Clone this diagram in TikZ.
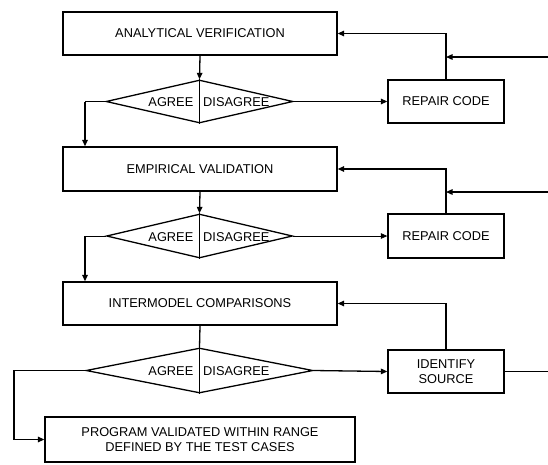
\documentclass[tikz,border=0pt]{standalone}
\usepackage{fontspec}
\setmainfont{Liberation Sans}
\usetikzlibrary{arrows.meta,shapes.geometric}
\begin{document}
\begin{tikzpicture}[x=1pt,y=-1pt,
  every node/.style={font=\fontsize{12.8}{14.5}\selectfont},
  box/.style={draw,line width=1.3pt,inner sep=0pt,align=center},
  dia/.style={draw,diamond,line width=1.3pt,inner sep=0pt},
  arr/.style={line width=1.3pt,-{Triangle[length=6.5pt,width=5.5pt]}},
  ln/.style={line width=1.3pt},
  thin/.style={line width=0.7pt}]
\useasboundingbox (0,0) rectangle (548,464);
\node[box,minimum width=274,minimum height=43] (b1) at (200,33.5) {ANALYTICAL VERIFICATION};
\node[box,minimum width=274,minimum height=44] (b2) at (200,169) {EMPIRICAL VALIDATION};
\node[box,minimum width=274,minimum height=43] (b3) at (200,303.5) {INTERMODEL COMPARISONS};
\node[box,minimum width=310,minimum height=45] (fin) at (200,439.5) {PROGRAM VALIDATED WITHIN RANGE\\DEFINED BY THE TEST CASES};
\node[box,minimum width=116,minimum height=43] (r1) at (446,101.5) {REPAIR CODE};
\node[box,minimum width=116,minimum height=44] (r2) at (446,236) {REPAIR CODE};
\node[box,minimum width=116,minimum height=43] (id) at (446,371.5) {IDENTIFY\\SOURCE};
\node[dia,minimum width=187,minimum height=43] (d1) at (199.5,101.5) {};
\node[dia,minimum width=186,minimum height=44] (d2) at (199.5,236) {};
\node[dia,minimum width=227,minimum height=45] (d3) at (199.5,370.5) {};
\foreach \d in {d1,d2,d3}{
  \draw[ln] (\d.north) -- (\d.south);
  \node[anchor=east,inner sep=0pt] (\d a) at ([xshift=-6pt,yshift=-1pt]\d.center) {AGREE};
  \node[anchor=west,inner sep=0pt] (\d g) at ([xshift=3.5pt,yshift=-1pt]\d.center) {DISAGREE};
}
\coordinate (in1) at (548,57);
\coordinate (in2) at (548,192);
\coordinate (out3) at (548,371.5);
\coordinate (c3) at (14,400);
% stage 1
\draw[arr] (b1.south) -- (d1.north);
\draw[thin] (d1.west) -- (85,101.5) coordinate (k1);
\draw[arr] (k1) -- (k1 |- b2.north);
\draw[arr] (d1.east) -- (r1.west);
\draw[arr] (r1.north) |- (b1.east);
\draw[arr] (in1) -- (r1.north |- in1);
% stage 2
\draw[arr] (b2.south) -- (d2.north);
\draw[thin] (d2.west) -- (85,236) coordinate (k2);
\draw[arr] (k2) -- (k2 |- b3.north);
\draw[thin,-{Triangle[length=6.5pt,width=5.5pt]}] (d2.east) -- (r2.west);
\draw[arr] (r2.north) |- (b2.east);
\draw[arr] (in2) -- (r2.north |- in2);
% stage 3
\draw[ln] (b3.south) -- (d3.north);
\draw[arr] (d3.west) -| (c3) |- (fin.west);
\draw[arr] (d3.east) -- (id.west);
\draw[arr] (id.north) |- (b3.east);
\draw[ln] (id.east) -- (out3);
\end{tikzpicture}
\end{document}
